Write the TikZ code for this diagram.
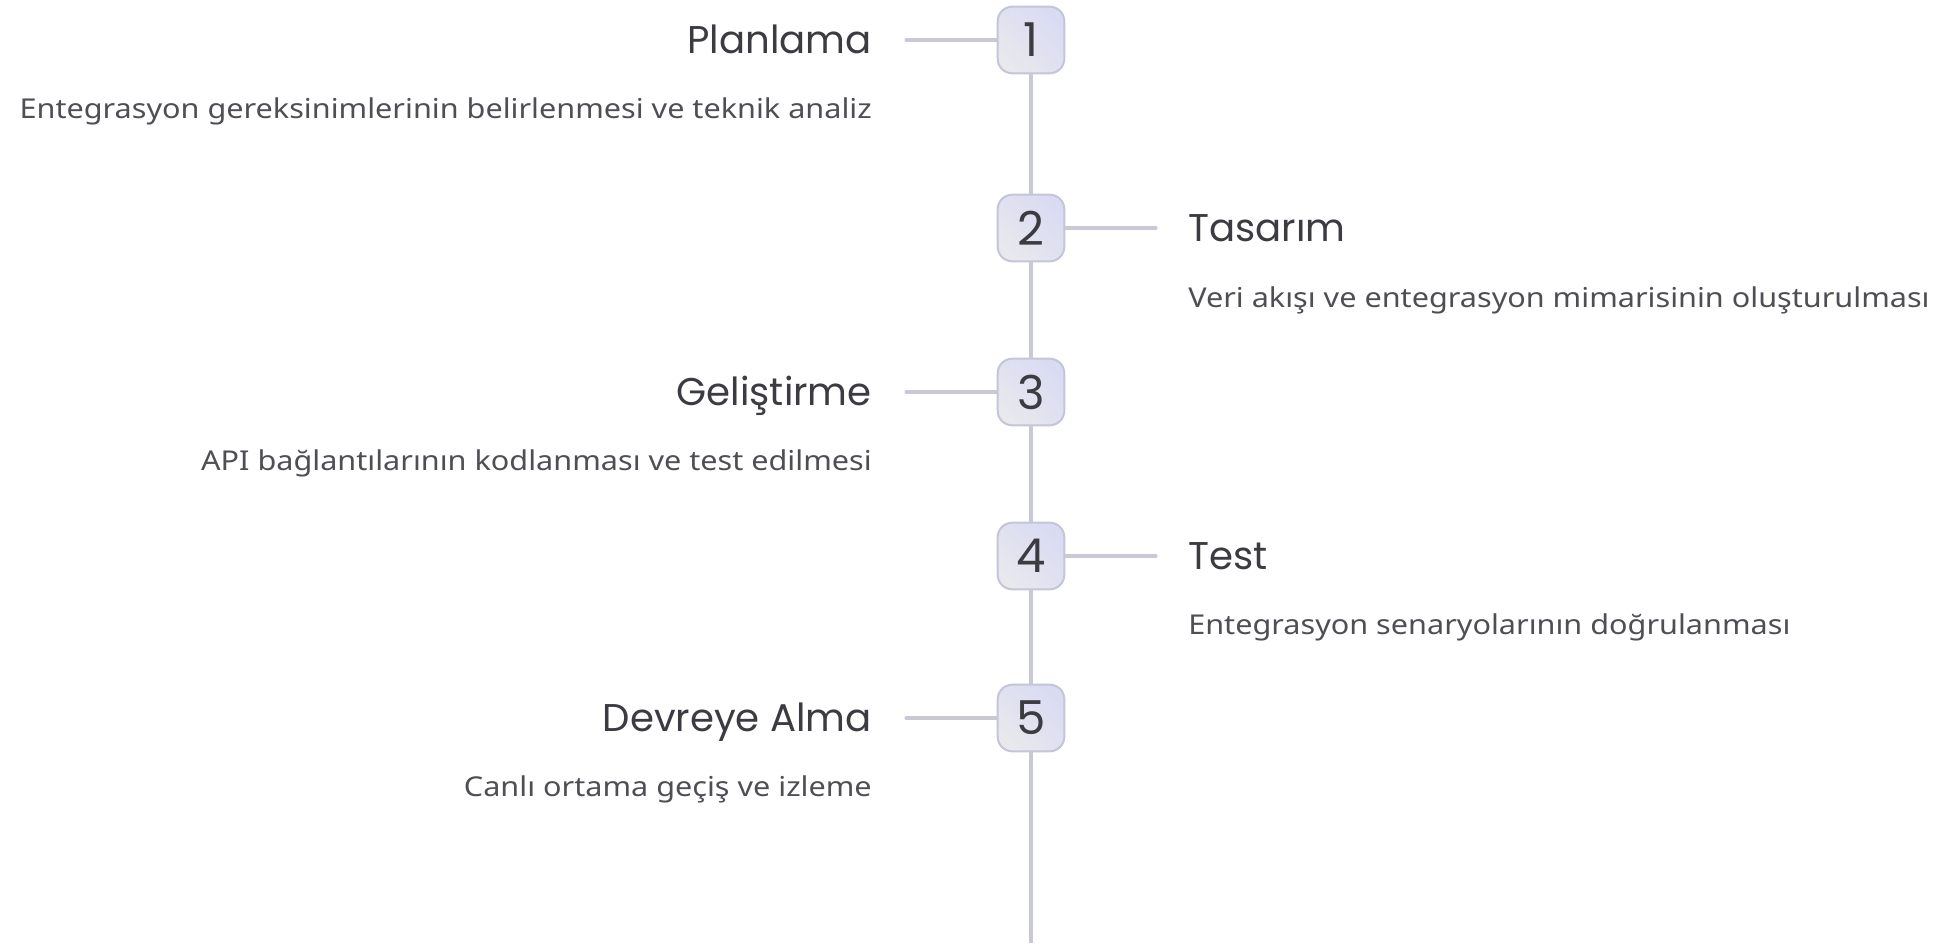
\documentclass[tikz,border=0pt]{standalone}
\usepackage{fontspec}
\newfontfamily\titlefont{Poppins}
\newfontfamily\descfont[FakeStretch=1.12]{Noto Sans}
\definecolor{linecol}{HTML}{C9C9D6}
\definecolor{boxborder}{HTML}{C4C5D6}
\definecolor{boxA}{HTML}{E8E8ED}
\definecolor{boxB}{HTML}{D9DBF3}
\definecolor{titlecol}{HTML}{3B3B41}
\definecolor{desccol}{HTML}{4E4E54}
\tikzset{
  stepbox/.style={draw=boxborder, line width=1.5pt, rounded corners=11pt,
    left color=boxA, right color=boxB, shading angle=135,
    minimum width=50pt, minimum height=50pt, inner sep=0pt,
    font=\titlefont\fontsize{35}{40}\selectfont, text=titlecol},
  conn/.style={draw=linecol, line width=2.3pt, line cap=round},
  spine/.style={draw=linecol, line width=2.3pt},
  ttl/.style={font=\titlefont\fontsize{29}{34}\selectfont, text=titlecol, inner sep=0pt},
  dsc/.style={font=\descfont\fontsize{20.5}{24}\selectfont, text=desccol, inner sep=0pt},
}
\begin{document}
\begin{tikzpicture}[x=0.75pt, y=-0.75pt]
\useasboundingbox (0,0) rectangle (1945,943);
% boxes
\node[stepbox] (b1) at (1031,40) {1};
\node[stepbox] (b2) at (1031,228) {2};
\node[stepbox] (b3) at (1031,392) {3};
\node[stepbox] (b4) at (1031,556) {4};
\node[stepbox] (b5) at (1031,718) {5};
\coordinate (bottom) at (1031,943);
% spine
\draw[spine] (b1.south) -- (b2.north);
\draw[spine] (b2.south) -- (b3.north);
\draw[spine] (b3.south) -- (b4.north);
\draw[spine] (b4.south) -- (b5.north);
\draw[spine] (b5.south) -- (bottom);
% connector ends
\coordinate (h1) at (906,40);
\coordinate (h2) at (1156,228);
\coordinate (h3) at (906,392);
\coordinate (h4) at (1156,556);
\coordinate (h5) at (906,718);
\draw[conn] (h1) -- (b1.west);
\draw[conn] (b2.east) -- (h2);
\draw[conn] (h3) -- (b3.west);
\draw[conn] (b4.east) -- (h4);
\draw[conn] (h5) -- (b5.west);
% titles
\node[ttl, anchor=base east] (t1) at (872,53) {Planlama};
\node[ttl, anchor=base west] (t2) at (1188,241) {Tasarım};
\node[ttl, anchor=base east] (t3) at (872,405) {Geliştirme};
\node[ttl, anchor=base west] (t4) at (1188,569) {Test};
\node[ttl, anchor=base east] (t5) at (872,731) {Devreye Alma};
% descriptions
\node[dsc, anchor=base east] (d1) at (872,118) {Entegrasyon gereksinimlerinin belirlenmesi ve teknik analiz};
\node[dsc, anchor=base west] (d2) at (1188,307) {Veri akışı ve entegrasyon mimarisinin oluşturulması};
\node[dsc, anchor=base east] (d3) at (872,470) {API bağlantılarının kodlanması ve test edilmesi};
\node[dsc, anchor=base west] (d4) at (1188,634) {Entegrasyon senaryolarının doğrulanması};
\node[dsc, anchor=base east] (d5) at (872,796) {Canlı ortama geçiş ve izleme};
\end{tikzpicture}
\end{document}
